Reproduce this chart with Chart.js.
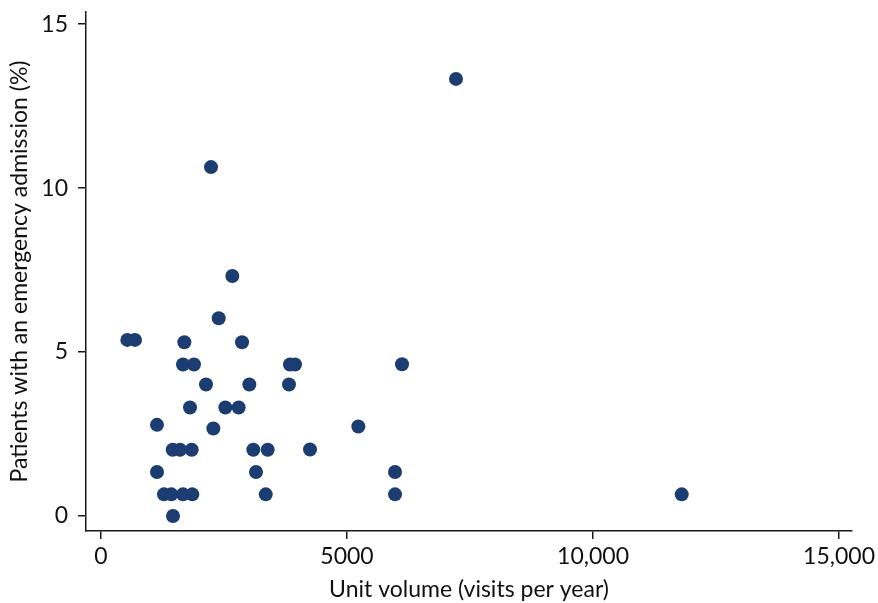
<!DOCTYPE html>
<html>
<head>
<meta charset="utf-8">
<script src="https://cdn.jsdelivr.net/npm/chart.js@4"></script>
<style>
  html, body { margin: 0; padding: 0; background: #fff; }
</style>
</head>
<body>
<canvas id="chart" width="878" height="603"></canvas>
<script>
// Unit volume (visits per year) and % of patients with an emergency admission
const unitVolume = [535, 691, 1138, 1138, 1280, 1429, 1463, 1457, 1606, 1667,
    1667, 1694, 1809, 1843, 1856, 1890, 2134, 2236, 2283, 2392,
    2527, 2669, 2798, 2866, 3015, 3096, 3150, 3348, 3388, 3821,
    3841, 3943, 4248, 5230, 5976, 5976, 6118, 7215, 11803];
const emergencyPct = [5.37, 5.37, 2.78, 1.34, 0.66, 0.66, 0.0, 2.02, 2.02, 0.66,
    4.62, 5.30, 3.31, 2.02, 0.66, 4.62, 4.01, 10.64, 2.67, 6.03,
    3.31, 7.32, 3.31, 5.30, 4.01, 2.02, 1.34, 0.66, 2.02, 4.01,
    4.62, 4.62, 2.03, 2.73, 1.34, 0.66, 4.63, 13.33, 0.66];

const xTicks = [0, 5000, 10000, 15000];
const xTickLabels = ['0', '5000', '10,000', '15,000'];
const yTicks = [0, 5, 10, 15];
const yTickLabels = ['0', '5', '10', '15'];

const points = unitVolume.map((v, i) => ({ x: v, y: emergencyPct[i] }));

const font = 'Lato, "Noto Sans", sans-serif';
const axisColor = '#1a1a1a';

new Chart(document.getElementById('chart'), {
    type: 'scatter',
    data: {
        datasets: [{
            data: points,
            backgroundColor: '#1b3d72',
            borderWidth: 0,
            pointRadius: 7,
            pointHoverRadius: 7
        }]
    },
    options: {
        responsive: false,
        devicePixelRatio: 1,
        animation: false,
        layout: { padding: { top: 12, right: 26, left: 0, bottom: 0 } },
        plugins: {
            legend: { display: false },
            tooltip: { enabled: false }
        },
        scales: {
            x: {
                type: 'linear',
                min: -305,
                max: 15264,
                afterBuildTicks: scale => { scale.ticks = xTicks.map(v => ({ value: v })); },
                afterFit: scale => {
                    scale.height = 72;
                    scale.paddingLeft = 0;
                    scale.paddingRight = 0;
                },
                ticks: {
                    callback: (v) => xTickLabels[xTicks.indexOf(v)],
                    color: '#111',
                    font: { family: font, size: 23 },
                    padding: 4,
                    maxRotation: 0
                },
                grid: { drawOnChartArea: false, drawTicks: true, tickLength: 8, color: axisColor, lineWidth: 1.5 },
                border: { display: true, color: axisColor, width: 1.5 },
                title: {
                    display: true,
                    text: 'Unit volume (visits per year)',
                    color: '#111',
                    font: { family: font, size: 23 },
                    padding: { top: 0, bottom: 0 }
                }
            },
            y: {
                type: 'linear',
                min: -0.457,
                max: 15.37,
                afterBuildTicks: scale => { scale.ticks = yTicks.map(v => ({ value: v })); },
                afterFit: scale => {
                    scale.width = 86;
                    scale.paddingTop = 0;
                    scale.paddingBottom = 0;
                },
                ticks: {
                    callback: (v) => yTickLabels[yTicks.indexOf(v)],
                    color: '#111',
                    font: { family: font, size: 23 },
                    padding: 10
                },
                grid: { drawOnChartArea: false, drawTicks: true, tickLength: 8, color: axisColor, lineWidth: 1.5 },
                border: { display: true, color: axisColor, width: 1.5 },
                title: {
                    display: true,
                    text: 'Patients with an emergency admission (%)',
                    color: '#111',
                    font: { family: font, size: 23 },
                    padding: { top: 6, bottom: 0 }
                }
            }
        }
    }
});
</script>
</body>
</html>
